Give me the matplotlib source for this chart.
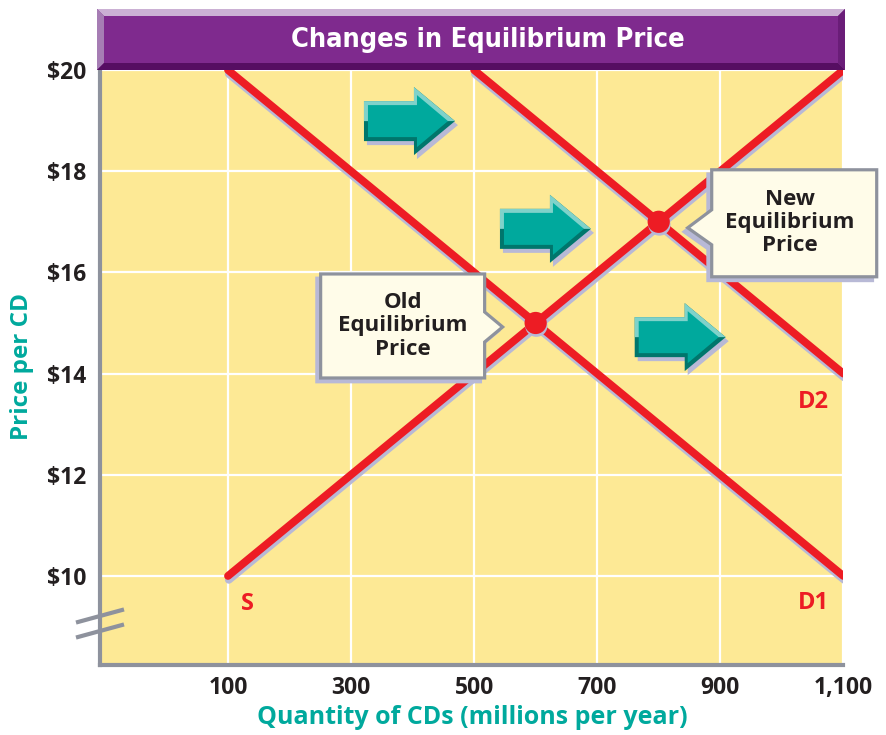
import matplotlib
matplotlib.use("Agg")
import matplotlib.pyplot as plt
import matplotlib.patheffects as pe
import matplotlib.transforms as mtransforms
from matplotlib.patches import Polygon
from matplotlib.lines import Line2D

# ---- data ----
quantity_ticks = [100, 300, 500, 700, 900, 1100]
quantity_labels = ["100", "300", "500", "700", "900", "1,100"]
price_ticks = [10, 12, 14, 16, 18, 20]
price_labels = ["$10", "$12", "$14", "$16", "$18", "$20"]

supply_q = [100, 1100]
supply_p = [10, 20]
d1_q = [100, 1100]
d1_p = [20, 10]
d2_q = [500, 1100]
d2_p = [20, 14]

old_eq = (600, 15)
new_eq = (800, 17)

# arrows: (tail quantity, center price)
arrow_tails = [(321, 18.99), (542, 16.86), (761, 14.72)]

curve_labels = [("S", 132, 9.45), ("D1", 1051, 9.47), ("D2", 1051, 13.44)]

# ---- style ----
RED = "#ED1C24"
SHADOW = "#B8B9D6"
TEAL = "#00A99D"
GRAY = "#8E929D"
YELLOW = "#FDE995"
DARK = "#231F20"
FONT = ["Open Sans", "DejaVu Sans"]

W, H = 886, 735
fig = plt.figure(figsize=(W / 100, H / 100), dpi=100)
fig.patch.set_facecolor("white")


def fpx(x, y):
    return (x / W, 1 - y / H)


ax = fig.add_axes([100 / W, 1 - 665 / H, 743.3 / W, 595 / H])
ax.set_facecolor(YELLOW)
ax.set_xlim(-108, 1100)
ax.set_ylim(8.24, 20)

for s in ["top", "right"]:
    ax.spines[s].set_visible(False)
for s in ["left", "bottom"]:
    ax.spines[s].set_color(GRAY)
    ax.spines[s].set_linewidth(3)
    ax.spines[s].set_zorder(6)

ax.set_xticks(quantity_ticks)
ax.set_xticklabels(quantity_labels)
ax.set_yticks(price_ticks)
ax.set_yticklabels(price_labels)
ax.tick_params(length=0, labelsize=16.5, labelcolor=DARK)
ax.tick_params(axis="y", pad=10)
ax.tick_params(axis="x", pad=8)
for lab in ax.get_xticklabels() + ax.get_yticklabels():
    lab.set_fontweight("bold")
    lab.set_family(FONT)
ax.grid(True, color="white", linewidth=1.6, zorder=0)
ax.set_axisbelow(True)

# curves with soft drop shadow
line_fx = [pe.SimpleLineShadow(offset=(0.6, -2.8), shadow_color=SHADOW, alpha=1), pe.Normal()]
for q, p in [(supply_q, supply_p), (d1_q, d1_p), (d2_q, d2_p)]:
    ax.plot(q, p, color=RED, linewidth=5.6, solid_capstyle="round",
            path_effects=line_fx, zorder=3)

ax.plot([old_eq[0], new_eq[0]], [old_eq[1], new_eq[1]], "o", color=RED,
        markersize=16, markeredgewidth=0, zorder=4,
        path_effects=[pe.SimplePatchShadow(offset=(0.5, -2), shadow_rgbFace=SHADOW, alpha=1), pe.Normal()])

for txt, q, p in curve_labels:
    ax.text(q, p, txt, color=RED, fontsize=17, fontweight="bold", family=FONT,
            ha="center", va="center", zorder=5)


def px_at(q, p):
    # pixel offsets anchored at a data point
    return (mtransforms.Affine2D().scale(1 / fig.dpi) + fig.dpi_scale_trans
            + mtransforms.ScaledTranslation(q, p, ax.transData))


# teal block arrows
L1, L, hb, hh = 50, 91, 20, 34
for q, p in arrow_tails:
    t = px_at(q, p)
    outer = [(0, hb), (L1, hb), (L1, hh), (L, 0), (L1, -hh), (L1, -hb), (0, -hb)]
    shadow = [(x + 3, y - 4) for x, y in outer]
    upper = [(0, 0), (0, hb), (L1, hb), (L1, hh), (L, 0)]
    inner = [(4, hb - 4), (L1 + 3, hb - 4), (L1 + 3, hh - 8), (L - 7, 0),
             (L1 + 3, -(hh - 8)), (L1 + 3, -(hb - 4)), (4, -(hb - 4))]
    for pts, col in [(shadow, SHADOW), (outer, "#00766C"), (upper, "#7FD2CA"), (inner, TEAL)]:
        ax.add_patch(Polygon(pts, closed=True, facecolor=col, edgecolor="none",
                             transform=t, zorder=5, clip_on=False))

# callout boxes
callouts = [
    (old_eq, [(-215, 49), (-51, 49), (-51, 11), (-33, -4), (-51, -19), (-51, -55), (-215, -55)],
     (-133, -3), "Old\nEquilibrium\nPrice"),
    (new_eq, [(53, 52), (218, 52), (218, -55), (53, -55), (53, -23), (29, -6), (53, 12)],
     (131, -1), "New\nEquilibrium\nPrice"),
]
for (q, p), pts, (tx, ty), txt in callouts:
    t = px_at(q, p)
    ax.add_patch(Polygon([(x - 4, y - 4) for x, y in pts], closed=True, facecolor=SHADOW,
                         edgecolor=SHADOW, linewidth=2, transform=t, zorder=7, clip_on=False))
    ax.add_patch(Polygon(pts, closed=True, facecolor="#FFFCE9", edgecolor=GRAY,
                         linewidth=2.3, joinstyle="miter", transform=t, zorder=8, clip_on=False))
    ax.text(tx / 100, ty / 100, txt, transform=fig.dpi_scale_trans + mtransforms.ScaledTranslation(q, p, ax.transData),
            ha="center", va="center", fontsize=16, fontweight="bold", family=FONT,
            color=DARK, linespacing=1.13, zorder=9)

# title bar with bevels
x0, x1, y0, y1, b = 97, 845, 9, 70, 7
bars = [
    ([(x0, y0), (x1, y0), (x1, y1), (x0, y1)], "#7F2A8E"),
    ([(x0, y0), (x1, y0), (x1 - b, y0 + b), (x0 + b, y0 + b)], "#CBB0D4"),
    ([(x0, y0), (x0 + b, y0 + b), (x0 + b, y1 - b), (x0, y1)], "#A67DB4"),
    ([(x0, y1), (x0 + b, y1 - b), (x1 - b, y1 - b), (x1, y1)], "#560E62"),
    ([(x1, y0), (x1, y1), (x1 - b, y1 - b), (x1 - b, y0 + b)], "#6A1D78"),
]
for pts, col in bars:
    fig.patches.append(Polygon([fpx(x, y) for x, y in pts], closed=True, facecolor=col,
                               edgecolor="none", transform=fig.transFigure, zorder=1))
fig.text(*fpx(488, 40), "Changes in Equilibrium Price", color="white", fontsize=19.5,
         fontweight="bold", fontstretch="condensed", family="DejaVu Sans",
         ha="center", va="center")

# axis break marks
for ya, yb in [(622, 610), (637, 625)]:
    fig.add_artist(Line2D([78 / W, 122 / W], [1 - ya / H, 1 - yb / H], color=GRAY,
                          linewidth=3, transform=fig.transFigure, zorder=10))

fig.text(*fpx(472, 718), "Quantity of CDs (millions per year)", color=TEAL, fontsize=18,
         fontweight="bold", family=FONT, ha="center", va="center")
fig.text(*fpx(22, 366), "Price per CD", color=TEAL, fontsize=17.5, fontweight="bold",
         family=FONT, ha="center", va="center", rotation=90)

fig.savefig("out.png", dpi=100)
